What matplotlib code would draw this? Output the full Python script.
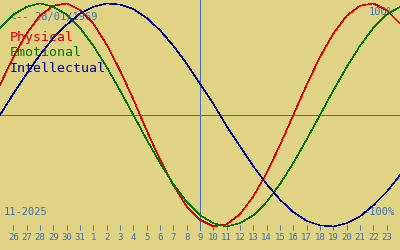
import numpy as np
import matplotlib
matplotlib.use('Agg')
import matplotlib.pyplot as plt

# days shown on the axis (26 Oct 2025 .. 23 Nov 2025)
day_labels = ['26', '27', '28', '29', '30', '31', '1', '2', '3', '4', '5', '6', '7',
              '8', '9', '10', '11', '12', '13', '14', '15', '16', '17', '18', '19',
              '20', '21', '22', '23']
today_index = 14  # 9 Nov

# cycle values, one per day from 25 Oct to 24 Nov (edges run off the chart)
physical = [0.27, 0.52, 0.73, 0.89, 0.98, 1.00, 0.94, 0.82, 0.63, 0.40, 0.14,
            -0.14, -0.40, -0.63, -0.82, -0.94, -1.00, -0.98, -0.89, -0.73, -0.52,
            -0.27, 0.00, 0.27, 0.52, 0.73, 0.89, 0.98, 1.00, 0.94, 0.82]
emotional = [0.78, 0.90, 0.97, 1.00, 0.97, 0.90, 0.78, 0.62, 0.43, 0.22, 0.00,
             -0.22, -0.43, -0.62, -0.78, -0.90, -0.97, -1.00, -0.97, -0.90, -0.78,
             -0.62, -0.43, -0.22, 0.00, 0.22, 0.43, 0.62, 0.78, 0.90, 0.97]
intellectual = [0.00, 0.19, 0.37, 0.54, 0.69, 0.81, 0.91, 0.97, 1.00, 0.99, 0.95,
                0.87, 0.76, 0.62, 0.46, 0.28, 0.10, -0.10, -0.28, -0.46, -0.62,
                -0.76, -0.87, -0.95, -0.99, -1.00, -0.97, -0.91, -0.81, -0.69, -0.54]

bg = '#e0d384'
blue = '#3a6fb5'
mono = 'DejaVu Sans Mono'

fig = plt.figure(figsize=(4, 2.5), dpi=100, facecolor=bg)
ax = fig.add_axes([0, 0, 1, 1], facecolor=bg)

x = np.arange(len(physical)) - 1
ax.plot(x, physical, color='#dd0000', lw=0.4, antialiased=False, zorder=3)
ax.plot(x, emotional, color='#007700', lw=0.4, antialiased=False, zorder=3)
ax.plot(x, intellectual, color='#000088', lw=0.4, antialiased=False, zorder=3)

ax.axhline(0, color=blue, lw=0.55, antialiased=False, zorder=2)
ax.axvline(today_index, ymin=0.08, ymax=1, color=blue, lw=0.55,
           antialiased=False, zorder=2)

ax.set_xlim(-1, 29)
ax.set_ylim(-1.211, 1.031)

for s in ax.spines.values():
    s.set_visible(False)
ax.spines['bottom'].set_position(('data', -1.031))
ax.set_xticks(range(len(day_labels)))
ax.set_xticklabels(day_labels, fontsize=6.5, family=mono, color=blue)
ax.tick_params(axis='x', direction='in', length=3.6, width=0.7, color=blue, pad=2.5)
ax.set_yticks([])


def px(xp, yp):
    return xp / 400, 1 - yp / 250


ax.text(*px(10, 17), '<-- 28/01/1969', transform=ax.transAxes, fontsize=7.5,
        family=mono, color=blue, va='center', ha='left', zorder=1)
ax.text(*px(394, 12), '100%', transform=ax.transAxes, fontsize=7.5,
        family=mono, color=blue, va='center', ha='right', zorder=1)
ax.text(*px(394, 212), '-100%', transform=ax.transAxes, fontsize=7.5,
        family=mono, color=blue, va='center', ha='right', zorder=1)
ax.text(*px(4, 212), '11-2025', transform=ax.transAxes, fontsize=7.5,
        family=mono, color=blue, va='center', ha='left', zorder=1)

for name, col, yp in [('Physical', '#dd0000', 38), ('Emotional', '#007700', 53),
                      ('Intellectual', '#000088', 68)]:
    ax.text(*px(10, yp), name, transform=ax.transAxes, fontsize=9.5,
            family=mono, color=col, va='center', ha='left', zorder=1)

fig.savefig('out.png', dpi=100, facecolor=bg)
